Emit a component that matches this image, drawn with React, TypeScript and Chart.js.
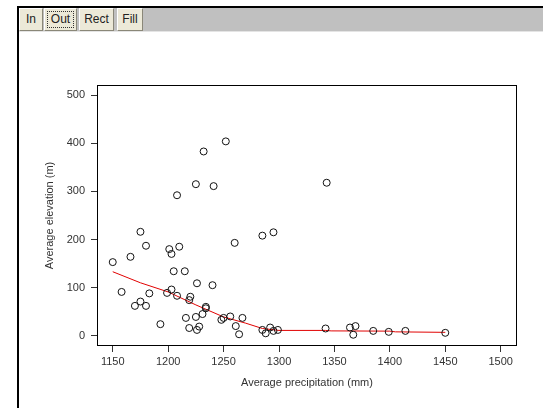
import { useEffect, useRef } from "react";
import { Chart, registerables } from "chart.js";

Chart.register(...registerables);

// Scatter data: average precipitation (mm) vs average elevation (m)
const precipitation = [
  1150, 1158, 1166, 1170, 1175, 1175, 1180, 1180, 1183, 1193,
  1199, 1201, 1203, 1203, 1205, 1208, 1208, 1210, 1215, 1216,
  1219, 1220, 1219, 1225, 1225, 1226, 1228, 1226, 1231, 1232,
  1234, 1234, 1240, 1241, 1248, 1250, 1252, 1256, 1260, 1261,
  1264, 1267, 1285, 1285, 1288, 1292, 1295, 1295, 1299, 1342,
  1343, 1364, 1367, 1369, 1385, 1399, 1414, 1450,
];
const elevation = [
  153, 91, 164, 62, 71, 216, 62, 187, 88, 24,
  89, 180, 170, 96, 134, 83, 292, 185, 134, 37,
  74, 81, 16, 39, 315, 109, 19, 12, 45, 383,
  57, 60, 105, 311, 33, 37, 404, 40, 193, 20,
  3, 37, 208, 12, 5, 17, 215, 10, 12, 15,
  318, 17, 2, 20, 10, 8, 10, 6,
];

// Smoothed (loess-like) fit
const fitPrecip = [1150, 1175, 1200, 1225, 1250, 1270, 1285, 1300, 1342, 1347, 1400, 1405, 1450];
const fitElevation = [133, 110, 91, 64, 39, 26, 15, 11, 11, 10, 9.5, 8, 7];

const xTicks = [1150, 1200, 1250, 1300, 1350, 1400, 1450, 1500];
const yTicks = [0, 100, 200, 300, 400, 500];

const toolbarButtons = ["In", "Out", "Rect", "Fill"];
const focusedButton = "Out";

const FONT = "'Liberation Sans', Arial, sans-serif";

const boxPlugin = {
  id: "plotBox",
  afterDraw(chart: any) {
    const { ctx, chartArea } = chart;
    const { left, top, right, bottom } = chartArea;
    ctx.save();
    ctx.strokeStyle = "#000";
    ctx.lineWidth = 1;
    ctx.strokeRect(left + 0.5, top + 0.5, right - left - 1, bottom - top - 1);
    ctx.restore();
  },
};

export default function App() {
  const canvasRef = useRef<HTMLCanvasElement | null>(null);

  useEffect(() => {
    document.body.style.margin = "0";
    const canvas = canvasRef.current;
    if (!canvas) return;
    const scatterPoints = precipitation.map((x, i) => ({ x, y: elevation[i] }));
    const fitPoints = fitPrecip.map((x, i) => ({ x, y: fitElevation[i] }));

    const chart = new Chart(canvas, {
      type: "scatter",
      data: {
        datasets: [
          {
            type: "line",
            data: fitPoints,
            borderColor: "rgb(225,0,0)",
            borderWidth: 1,
            pointRadius: 0,
            tension: 0,
            fill: false,
            order: 2,
          } as any,
          {
            type: "scatter",
            data: scatterPoints,
            pointStyle: "circle",
            pointRadius: 3.5,
            borderColor: "#111",
            backgroundColor: "rgba(0,0,0,0)",
            borderWidth: 1,
            order: 1,
          },
        ],
      },
      options: {
        animation: false,
        responsive: false,
        maintainAspectRatio: false,
        layout: { padding: { left: 0, top: 53, right: 26, bottom: 0 } },
        plugins: {
          legend: { display: false },
          tooltip: { enabled: false },
        },
        scales: {
          x: {
            type: "linear",
            min: 1135.8,
            max: 1514.7,
            afterFit(scale: any) {
              scale.height = 62;
            },
            afterBuildTicks(scale: any) {
              scale.ticks = xTicks.map((v) => ({ value: v }));
            },
            grid: { drawOnChartArea: false, tickLength: 6, color: "#333" },
            border: { display: false },
            ticks: {
              font: { family: FONT, size: 11 },
              color: "#333",
              padding: 3,
              maxRotation: 0,
              autoSkip: false,
              callback: (v: any) => String(v),
            },
            title: {
              display: true,
              text: "Average precipitation (mm)",
              font: { family: FONT, size: 11 },
              color: "#333",
              padding: { top: 0, bottom: 18 },
            },
          },
          y: {
            type: "linear",
            min: -21.4,
            max: 521.2,
            afterFit(scale: any) {
              scale.width = 78;
            },
            afterBuildTicks(scale: any) {
              scale.ticks = yTicks.map((v) => ({ value: v }));
            },
            grid: { drawOnChartArea: false, tickLength: 6, color: "#333" },
            border: { display: false },
            ticks: {
              font: { family: FONT, size: 11 },
              color: "#333",
              padding: 6,
              autoSkip: false,
              callback: (v: any) => String(v),
            },
            title: {
              display: true,
              text: "Average elevation (m)",
              font: { family: FONT, size: 11 },
              color: "#333",
              padding: { top: 24, bottom: 0 },
            },
          },
        },
      },
      plugins: [boxPlugin],
    });
    return () => chart.destroy();
  }, []);

  const buttonLefts = [19, 44, 79, 117];
  const buttonWidths = [24, 33, 35, 26];

  return (
    <div
      style={{
        position: "fixed",
        left: 0,
        top: 0,
        width: 543,
        height: 408,
        background: "#fff",
        overflow: "hidden",
      }}
    >
      <div style={{ position: "absolute", left: 17, top: 6, width: 526, height: 2, background: "#000" }} />
      <div style={{ position: "absolute", left: 17, top: 6, width: 2, height: 402, background: "#000" }} />
      <div
        style={{
          position: "absolute",
          left: 19,
          top: 8,
          width: 524,
          height: 23,
          background: "#c0c0c0",
          borderBottom: "1px solid #e4e4e4",
        }}
      />
      {toolbarButtons.map((b, i) => (
        <div
          key={b}
          style={{
            position: "absolute",
            left: buttonLefts[i],
            top: 8,
            width: buttonWidths[i],
            boxSizing: "border-box",
            height: 23,
            background: "#ece9d8",
            borderStyle: "solid",
            borderWidth: 1,
            borderColor: "#fff #8a8778 #8a8778 #fff",
            font: `12px ${FONT}`,
            color: "#222",
            lineHeight: "21px",
            textAlign: "center",
            outline: b === focusedButton ? "1px dotted #333" : "none",
            outlineOffset: -4,
          }}
        >
          {b}
        </div>
      ))}
      <canvas
        ref={canvasRef}
        width={524}
        height={376}
        style={{ position: "absolute", left: 19, top: 32, width: 524, height: 376, display: "block" }}
      />
    </div>
  );
}
